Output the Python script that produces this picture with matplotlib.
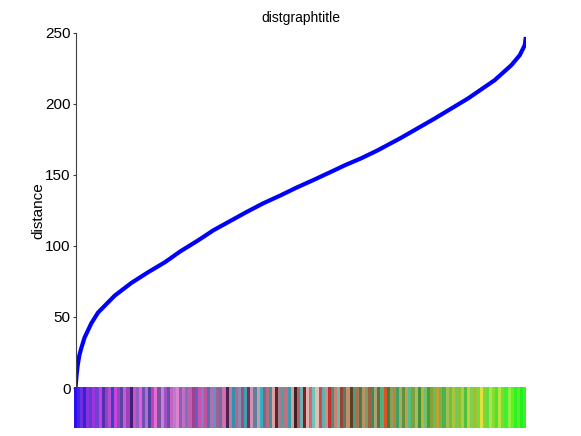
import matplotlib
matplotlib.use('Agg')
import matplotlib.pyplot as plt

# curve: sample position vs distance
pos = [0, 1, 2.3, 3.8, 5.7, 9, 15.7, 22.3, 39, 55.7, 72.3, 89, 104, 122.3, 137.3,
       154, 170.7, 187, 204, 220, 237.3, 254, 269, 284, 300.7, 324, 357.3,
       390.7, 417.3, 434, 442.3, 447.3, 448.3]
dist = [0, 9, 16.7, 23, 28, 35.5, 45.5, 53, 65, 74, 81.5, 88.5, 96, 104, 111,
        117.5, 124, 130, 135.5, 141, 146.5, 152, 157, 161.5, 167.2, 176, 189.5,
        203.7, 216.6, 227.2, 234.2, 241.3, 247]

# colour of each stripe in the bar under the plot, left to right
strip_colors = [
    '#2a10f0', '#4a20e8', '#6a30e0', '#3a20d0', '#8a30e0', '#5a40c8', '#a030e0', '#7040d0',
    '#c040e0', '#5030b0', '#9040c0', '#b050d0', '#4040c0', '#d040e0', '#8050c0', '#6040a0',
    '#c060d0', '#a040c0', '#402070', '#d050d0', '#9060c0', '#e060e0', '#7050b0', '#b070d0',
    '#5040a0', '#c040c0', '#e070d0', '#8050a0', '#c080e0', '#a050c0', '#6050b0', '#d060c0',
    '#b080d0', '#e080d0', '#9060b0', '#c070c0', '#8070c0', '#c060b0',
    '#a04090', '#6060c0', '#d050b0', '#8080c0', '#c050a0', '#5070b0', '#b070b0', '#6090d0',
    '#a06090', '#7070a0', '#d070b0', '#502050', '#b080a0', '#3090b0', '#c06090', '#8090b0',
    '#a05080', '#40a0b0', '#703060', '#d090b0', '#6080a0', '#c0a0b0', '#30b0c0', '#906080',
    '#b07080', '#4090a0', '#e0a0a0', '#602030', '#a08090', '#50a0a0', '#c07080', '#30a0b0',
    '#d0a0a0', '#402020', '#b06070', '#70b0b0', '#802020', '#e0b0b0',
    '#c07070', '#70c0c0', '#e0c0b0', '#c05050', '#60b0b0', '#d09080', '#c03030', '#409080',
    '#d08070', '#60c0b0', '#a04030', '#508060', '#c09070', '#604020', '#40a080', '#b07050',
    '#408050', '#c09060', '#70a070', '#a06040', '#309060', '#b0a070', '#607040', '#50b080',
    '#e05020', '#308050', '#90a050', '#c08040', '#40a060', '#a0b060', '#609040', '#c0a050',
    '#50c080', '#80a040', '#a0c060', '#409040', '#c0b040', '#70c070',
    '#40a040', '#90a030', '#60c060', '#c0a030', '#80b040', '#50b050', '#a0c050', '#70c040',
    '#b0c040', '#60d060', '#90c030', '#a0d050', '#50c040', '#c0d040', '#80d050', '#a0c030',
    '#70e040', '#e0e040', '#90d030', '#60e040', '#b0e050', '#80e030', '#50e030', '#c0e040',
    '#70e030', '#40f030', '#90f040', '#60f020', '#30f020', '#50f030', '#20f020', '#40f020',
]

plt.rcParams['font.family'] = ['Liberation Sans', 'DejaVu Sans']

fig = plt.figure(figsize=(5.81, 4.36), dpi=100)
ax = fig.add_axes([0.13, 0.11, 0.775, 0.815])
ax.plot(pos, dist, color='#0000ff', linewidth=3, solid_capstyle='butt')
ax.set_xlim(0, pos[-1])
ax.set_ylim(0, 250)
ax.set_yticks([0, 50, 100, 150, 200, 250])
ax.set_xticks([])
for s in ['top', 'right', 'bottom']:
    ax.spines[s].set_visible(False)
ax.spines['left'].set_color('#404040')
ax.tick_params(axis='y', direction='out', length=2.5, labelsize=11, color='#404040', pad=1)
ax.set_ylabel('distance', fontsize=11, labelpad=0)
ax.set_title('distgraphtitle', fontsize=10, pad=8)

# colour strip under the axes
sx = fig.add_axes([0.127, 0.0183, 0.7785, 0.0945])
n = len(strip_colors)
w = pos[-1] / n
sx.bar([i * w for i in range(n)], [1] * n, width=w * 1.02, align='edge',
       color=strip_colors, linewidth=0)
sx.set_xlim(0, pos[-1])
sx.set_ylim(0, 1)
sx.axis('off')

fig.savefig('out.png', dpi=100)
